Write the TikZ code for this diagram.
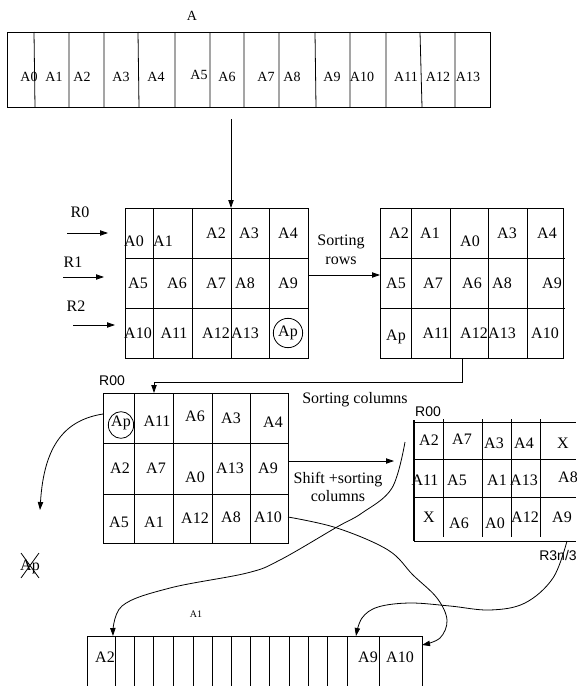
\documentclass[tikz,border=0pt]{standalone}
\usepackage{fontspec}
\setmainfont{Liberation Serif}
\setsansfont{Liberation Sans}
\usetikzlibrary{arrows.meta,shapes.geometric}
\begin{document}
\begin{tikzpicture}[x=0.75pt,y=-0.75pt,line width=0.6pt,
  lab/.style={font=\fontsize{12}{14}\selectfont,inner sep=0pt},
  tlab/.style={font=\fontsize{10.5}{12}\selectfont,inner sep=0pt},
  slab/.style={font=\sffamily\fontsize{10.5}{12}\selectfont,inner sep=0pt},
  tiny/.style={font=\fontsize{7.5}{9}\selectfont,inner sep=0pt},
  ring/.style={draw,ellipse,minimum width=22pt,minimum height=22pt,inner sep=0pt},
  arr/.style={-{Triangle[length=6pt,width=4pt]}},
  conn/.style={arr}]
\useasboundingbox (0,0) rectangle (576,686);

% ---------- top array A ----------
\node[tlab] (Atitle) at (192,16) {A};
\draw (7,32) rectangle (490,107);
\draw (34,32)--(35,107) (69,32)--(69,107) (104,32)--(104,107) (138,32)--(139,107)
      (175,32)--(175,107) (210,32)--(210,107) (244,32)--(244,107) (279,32)--(279,107)
      (315,32)--(316,107) (350,32)--(350,107) (386,32)--(386,107) (420,32)--(422,107)
      (455,32)--(455,107);
\foreach \t/\x/\y [count=\i] in {A0/29/77,A1/54/77,A2/82/77,A3/121/77,A4/156/77,A5/199/75,
   A6/227/77,A7/266/77,A8/292/77,A9/332/77,A10/362/77,A11/406/77,A12/438/77,A13/468/77}
  \node[tlab] (t\i) at (\x,\y) {\t};

% ---------- grid 1 ----------
\draw (125,208) rectangle (308,358);
\draw (125,258)--(308,258) (125,308)--(308,308)
      (153,208)--(153,358) (192,208)--(192,358) (231,208)--(231,358) (269,208)--(269,358);
\foreach \t/\x/\y [count=\i] in {A0/134/241,A1/163/241,A2/216/233,A3/249/233,A4/288/233,
   A5/138/283,A6/177/283,A7/216/283,A8/245/283,A9/288/283,
   A10/138/333,A11/174/333,A12/216/333,A13/245/333}
  \node[lab] (g\i) at (\x,\y) {\t};
\node[lab] (gAp) at (288,333) {Ap};
\node[ring] (gApc) at (288,333) {};

\node[lab] (R0) at (80,212) {R0};
\node[lab] (R1) at (73,262) {R1};
\node[lab] (R2) at (76,306) {R2};
\coordinate (r0s) at (67,233); \coordinate (r0e) at (108,233);
\coordinate (r1s) at (63,277); \coordinate (r1e) at (104,277);
\coordinate (r2s) at (73,325); \coordinate (r2e) at (115,325);
\draw[arr] (r0s)--(r0e);
\draw[arr] (r1s)--(r1e);
\draw[arr] (r2s)--(r2e);

\coordinate (aout) at (231,119); \coordinate (g1in) at (231,208);
\draw[arr] (aout)--(g1in);

% ---------- grid 2 ----------
\node[lab,align=center] (sortrows) at (341,250) {Sorting\\rows};
\coordinate (g1out) at (308,275); \coordinate (g2in) at (380,275);
\draw[arr] (g1out)--(g2in);
\draw (380,208) rectangle (563,358);
\draw (380,258)--(565,258) (380,308)--(565,308)
      (411,208)--(411,358) (450,208)--(450,358) (488,208)--(488,358) (527,208)--(527,358);
\foreach \t/\x/\y [count=\i] in {A2/399/233,A1/430/233,A0/470/241,A3/507/233,A4/547/233,
   A5/396/283,A7/433/283,A6/472/283,A8/502/283,A9/552/283,
   Ap/396/337,A11/436/333,A12/474/333,A13/502/333,A10/545/333}
  \node[lab] (h\i) at (\x,\y) {\t};

% ---------- connector grid 2 -> grid 3 ----------
\coordinate (g2out) at (462,358); \coordinate (g3in) at (154,393);
\draw[arr] (g2out)--(462,382)--(154,382)--(g3in);
\node[lab] (sortcols) at (355,400) {Sorting columns};

% ---------- grid 3 ----------
\node[slab] (R00a) at (112,381) {R00};
\draw (103,393) rectangle (288,543);
\draw (103,443)--(289,443) (103,494)--(289,494)
      (134,393)--(134,543) (173,393)--(173,543) (212,393)--(212,543) (250,393)--(250,543);
\foreach \t/\x/\y [count=\i] in {A11/157/421,A6/195/416,A3/231/418,A4/273/422,
   A2/120/468,A7/156/468,A0/195/477,A13/230/468,A9/268/468,
   A5/119/522,A1/154/522,A12/195/518,A8/231/517,A10/268/517}
  \node[lab] (k\i) at (\x,\y) {\t};
\node[lab] (kAp) at (121,423) {Ap};
\node[ring,minimum width=19pt,minimum height=20pt] (kApc) at (121,425) {};

\coordinate (shs) at (288,461); \coordinate (she) at (394,461);
\draw[arr] (shs)--(she);
\node[lab,align=center] (shift) at (338,487) {Shift +sorting\\columns};

% removed Ap
\coordinate (aps) at (103,414); \coordinate (ape) at (40,510);
\draw[conn] (aps) .. controls (65,420) and (44,445) .. (ape);
\node[lab] (apx) at (30,567) {Ap};
\draw (21,553)--(39,578) (39,553)--(21,578);

% ---------- grid 4 ----------
\node[slab] (R00b) at (428,412) {R00};
\draw[line width=1pt] (414,420)--(414,541);
\draw (414,422)--(576,422) (414,459)--(576,459) (414,497)--(576,497) (414,541)--(576,541)
      (443,419)--(443,537) (482,419)--(482,537) (511,419)--(511,537) (540,419)--(540,537);
\foreach \t/\x/\y [count=\i] in {A2/429/440,A7/462/439,A3/494/443,A4/524/443,X/563/443,
   A11/425/480,A5/457/480,A1/497/480,A13/524/480,A8/568/477,
   X/429/517,A6/459/523,A0/495/523,A12/525/517,A9/562/517}
  \node[lab] (m\i) at (\x,\y) {\t};
\node[slab] (R3n) at (558,555) {R3n/3};

% ---------- bottom array ----------
\draw (87,686)--(87,636)--(422,636)--(422,686);
\foreach \x in {115,134,153,173,193,212,231,250,269,289,308,327,347,379}
  \draw (\x,636)--(\x,686);
\node[lab] (b1) at (105,657) {A2};
\node[lab] (b2) at (368,657) {A9};
\node[lab] (b3) at (400,657) {A10};
\node[tiny] (b4) at (196,614) {A1};

% ---------- curves ----------
\coordinate (c2s) at (405,442); \coordinate (c2e) at (113,636);
\draw[conn] plot[smooth,tension=0.6] coordinates {(c2s) (392,488) (362,513) (337,527) (280,560) (247,573) (170,588) (122,606) (c2e)};
\coordinate (c3s) at (288,517); \coordinate (c3e) at (422,645);
\draw[conn] plot[smooth,tension=0.6] coordinates {(c3s) (337,528) (388,550) (413,575) (437,598) (447,620) (440,638) (c3e)};
\coordinate (c4s) at (567,541); \coordinate (c4e) at (356,636);
\draw[conn] plot[smooth,tension=0.6] coordinates {(c4s) (553,578) (525,603) (490,610) (450,606) (410,603) (378,607) (362,618) (c4e)};
\end{tikzpicture}
\end{document}
